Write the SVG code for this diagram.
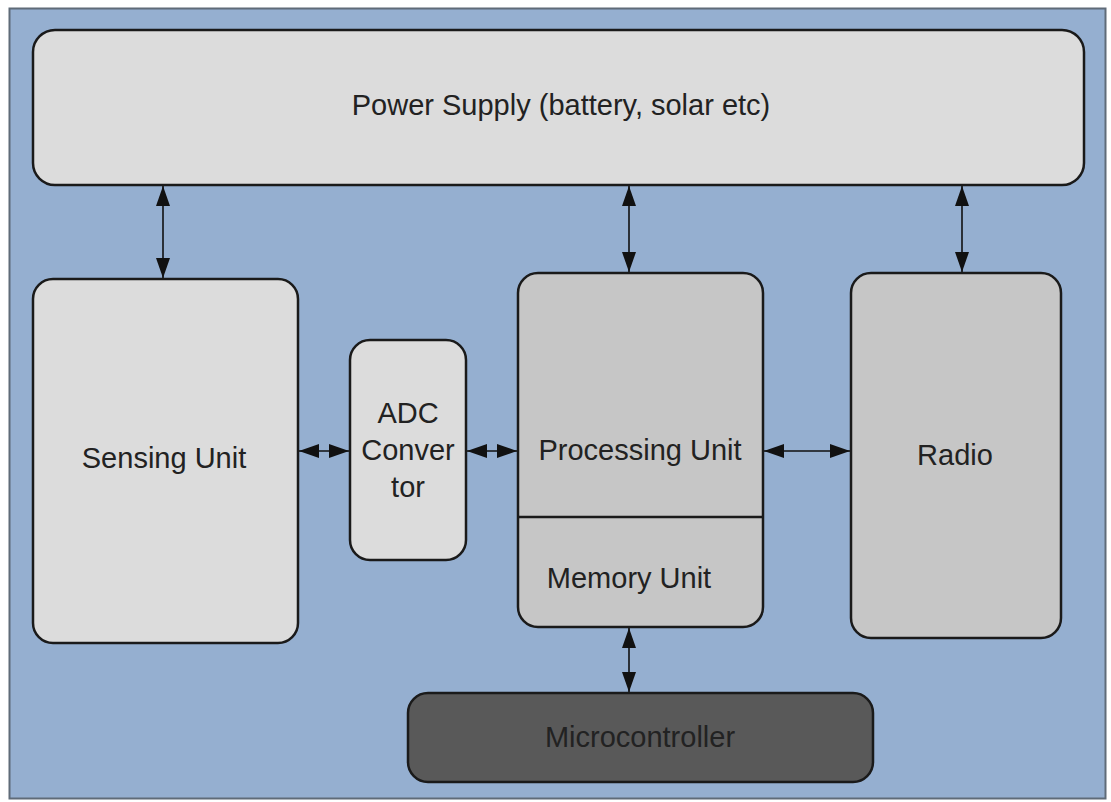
<svg xmlns="http://www.w3.org/2000/svg" width="1111" height="802" viewBox="0 0 1111 802">
  <style>
    .box { stroke: #1a1a1a; stroke-width: 2.5; }
    .light { fill: #dcdcdc; }
    .mid { fill: #c6c6c6; }
    .dark { fill: #595959; }
    .lbl { font-family: "Liberation Sans", Arial, sans-serif; font-size: 29px; fill: #222222; text-anchor: middle; }
    .wire { stroke: #111; stroke-width: 1.6; fill: none; marker-start: url(#head); marker-end: url(#head); }
  </style>
  <defs>
    <!-- filled triangular head, used at both ends of every connector -->
    <marker id="head" viewBox="0 0 20 14" refX="20" refY="7" markerWidth="20" markerHeight="14" markerUnits="userSpaceOnUse" orient="auto-start-reverse">
      <path d="M0,0 L20,7 L0,14 Z" fill="#111"/>
    </marker>
  </defs>

  <rect x="0" y="0" width="1111" height="802" fill="#ffffff"/>
  <rect id="frame" x="9.5" y="8.5" width="1096" height="790" fill="#95afd0" stroke="#5f6b78" stroke-width="2"/>

  <g id="connectors">
    <line class="wire" x1="163" y1="186" x2="163" y2="278"/>
    <line class="wire" x1="629" y1="186" x2="629" y2="272"/>
    <line class="wire" x1="962" y1="186" x2="962" y2="272"/>
    <line class="wire" x1="629" y1="628" x2="629" y2="692"/>
    <line class="wire" x1="299" y1="451" x2="349" y2="451"/>
    <line class="wire" x1="467" y1="451" x2="517" y2="451"/>
    <line class="wire" x1="764" y1="451" x2="850" y2="451"/>
  </g>

  <g id="power-supply">
    <rect class="box light" x="33" y="30" width="1051" height="155" rx="22"/>
    <text class="lbl" x="561" y="115">Power Supply (battery, solar etc)</text>
  </g>

  <g id="sensing-unit">
    <rect class="box light" x="33" y="279" width="265" height="364" rx="20"/>
    <text class="lbl" x="164" y="468">Sensing Unit</text>
  </g>

  <g id="adc-converter">
    <rect class="box light" x="350" y="340" width="116" height="220" rx="20"/>
    <text class="lbl" x="408" y="423">ADC</text>
    <text class="lbl" x="408" y="460">Conver</text>
    <text class="lbl" x="408" y="497">tor</text>
  </g>

  <g id="processing-unit">
    <rect class="box mid" x="518" y="273" width="245" height="354" rx="20"/>
    <line x1="518" y1="517" x2="763" y2="517" stroke="#1a1a1a" stroke-width="2.5"/>
    <text class="lbl" x="640" y="460">Processing Unit</text>
    <text class="lbl" x="629" y="588">Memory Unit</text>
  </g>

  <g id="radio">
    <rect class="box mid" x="851" y="273" width="210" height="365" rx="20"/>
    <text class="lbl" x="955" y="465">Radio</text>
  </g>

  <g id="microcontroller">
    <rect class="box dark" x="408" y="693" width="465" height="89" rx="20"/>
    <text class="lbl" x="640" y="747">Microcontroller</text>
  </g>
</svg>
